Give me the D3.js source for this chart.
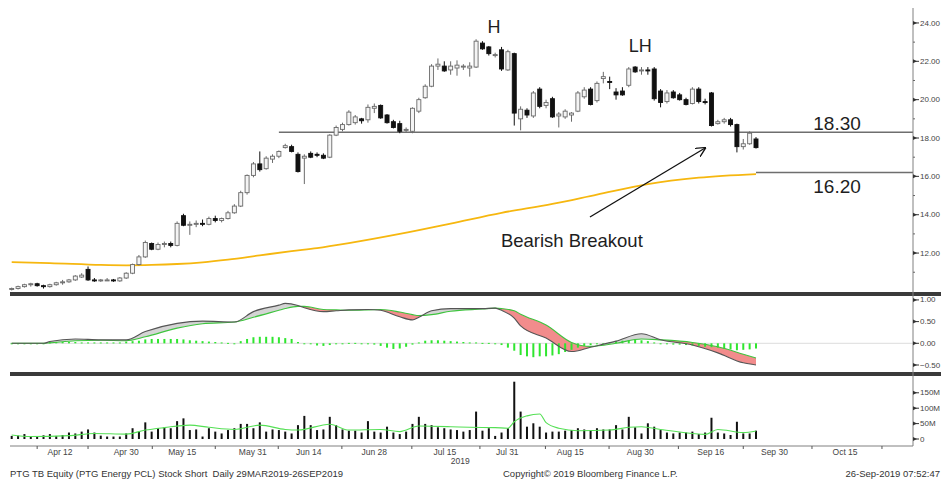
<!DOCTYPE html>
<html>
<head>
<meta charset="utf-8">
<script src="https://cdn.jsdelivr.net/npm/d3@7"></script>
<style>
  body { margin: 0; background: #fff; }
  svg { display: block; font-family: "Liberation Sans", Arial, sans-serif; }
</style>
</head>
<body>
<svg id="chart" width="941" height="483"></svg>
<script>
// Daily candles, 29 Mar 2019 - 26 Sep 2019: [open, high, low, close]
var CANDLES = [
  [10.10,10.20,10.05,10.15],[10.15,10.30,10.10,10.25],[10.25,10.40,10.20,10.35],[10.35,10.45,10.25,10.40],
  [10.40,10.45,10.25,10.30],[10.30,10.35,10.15,10.25],[10.25,10.40,10.20,10.35],[10.35,10.50,10.30,10.45],
  [10.45,10.60,10.35,10.50],[10.50,10.65,10.45,10.60],[10.60,10.85,10.55,10.80],[10.75,10.95,10.70,10.85],
  [11.15,11.30,10.55,10.60],[10.60,10.70,10.50,10.55],[10.55,10.65,10.50,10.60],[10.60,10.70,10.55,10.60],
  [10.60,10.65,10.50,10.55],[10.55,10.75,10.50,10.70],[10.70,11.00,10.65,10.95],[10.95,11.45,10.90,11.40],
  [11.40,11.90,11.35,11.80],[11.80,12.65,11.75,12.55],[12.50,12.55,12.15,12.20],[12.20,12.55,12.15,12.45],
  [12.45,12.60,12.30,12.50],[12.50,12.60,12.30,12.40],[12.40,13.65,12.35,13.55],[13.95,14.05,13.40,13.45],
  [13.45,13.65,12.95,13.50],[13.50,13.70,13.35,13.55],[13.55,13.75,13.40,13.50],[13.50,13.90,13.45,13.80],
  [13.80,13.95,13.60,13.70],[13.70,13.85,13.60,13.80],[13.80,14.20,13.75,14.10],[14.10,14.55,14.05,14.45],
  [14.45,15.25,14.40,15.15],[15.15,16.10,15.05,16.05],[16.05,16.75,15.95,16.65],[16.65,17.30,16.25,16.35],
  [16.40,17.05,16.35,16.95],[16.90,17.15,16.70,17.05],[17.05,17.35,16.95,17.30],[17.50,17.70,17.45,17.60],
  [17.55,17.65,17.25,17.30],[17.15,17.25,16.20,16.25],[16.95,17.15,15.60,17.05],[17.20,17.30,16.95,17.00],
  [17.15,17.25,17.00,17.10],[17.10,17.20,16.90,16.95],[17.00,18.20,16.95,18.15],[18.15,18.65,18.10,18.55],
  [18.45,18.80,18.35,18.70],[18.70,19.45,18.65,19.35],[18.80,19.20,18.70,19.10],[19.00,19.05,18.75,18.90],
  [18.95,19.75,18.80,19.60],[19.55,19.80,19.30,19.65],[19.70,19.75,19.00,19.05],[19.20,19.25,18.75,18.80],
  [18.85,18.95,18.50,18.55],[18.75,18.90,18.25,18.35],[18.40,18.55,18.30,18.45],[18.35,19.60,18.25,19.55],
  [19.40,20.10,19.30,20.00],[20.10,20.80,20.05,20.70],[20.70,21.85,20.65,21.75],[21.75,22.15,21.55,21.85],
  [21.75,22.00,21.45,21.50],[21.55,22.00,21.30,21.75],[21.65,22.05,21.25,21.80],[21.70,21.85,21.55,21.75],
  [21.65,21.95,21.20,21.75],[21.70,23.15,21.65,23.05],[22.95,23.05,22.60,22.65],[22.75,22.80,22.30,22.40],
  [22.30,22.45,22.20,22.35],[22.60,22.75,21.50,21.60],[21.55,22.60,21.50,22.50],[22.40,22.45,18.65,19.30],
  [19.00,19.65,18.40,19.50],[19.45,19.55,19.05,19.20],[19.15,20.45,19.05,20.35],[20.55,20.65,19.55,19.65],
  [19.70,20.00,19.55,19.85],[20.05,20.15,19.05,19.10],[19.15,19.35,18.55,19.25],[19.10,19.50,19.00,19.40],
  [19.20,19.35,18.85,19.30],[19.40,20.45,19.35,20.35],[20.15,20.65,20.05,20.50],[20.55,20.65,19.70,19.75],
  [19.95,20.95,19.85,20.85],[21.10,21.45,20.85,21.20],[20.95,21.20,20.55,20.90],[20.40,20.60,20.00,20.25],
  [20.45,20.65,20.20,20.25],[20.75,21.70,20.65,21.60],[21.70,21.75,21.40,21.45],[21.50,21.70,21.30,21.55],
  [21.55,21.70,21.30,21.50],[21.60,21.70,19.95,20.05],[20.45,20.55,19.60,19.85],[19.90,20.50,19.80,20.35],
  [20.40,20.50,20.05,20.10],[20.25,20.35,19.95,20.00],[20.00,20.10,19.70,19.75],[19.80,20.65,19.75,20.55],
  [20.55,20.65,19.80,19.90],[19.90,20.05,19.75,19.85],[20.35,20.40,18.60,18.65],[18.75,18.95,18.70,18.85],
  [18.85,19.05,18.75,18.95],[18.95,19.05,18.60,18.70],[18.70,18.75,17.25,17.55],[17.55,17.95,17.40,17.70],
  [17.70,18.35,17.65,18.25],[17.95,18.05,17.45,17.50]
];

// Daily volume, millions of shares
var VOLUME = [
  10,11,16,8,8,12,16,10,13,21,18,24,31,21,11,8,8,8,18,35,24,54,24,35,38,35,58,67,29,31,
  8,35,24,18,29,35,49,49,35,54,24,31,29,24,18,45,75,45,29,31,72,45,31,27,27,21,58,24,21,40,
  21,16,24,49,72,49,45,38,35,31,29,24,29,89,27,35,10,21,35,186,89,40,51,40,21,24,24,27,29,35,
  31,29,35,31,31,45,31,72,38,18,51,40,29,21,18,21,21,24,16,21,69,21,18,13,56,18,18,27
];

// Volume moving average: [day index, millions]
var VOLUME_MA = [
  [0,13],[3,8],[9,11],[13,18],[18,16],[21,29],[24,37],[28,45],[31,38],[35,31],[39,45],[43,31],
  [45,29],[50,48],[53,29],[58,31],[61,24],[64,42],[69,40],[72,38],[76,37],[78,35],[79,56],[81,75],
  [83,81],[84,53],[86,35],[89,27],[94,29],[97,38],[99,40],[102,31],[107,18],[109,15],[111,31],
  [115,21],[117,26]
];

// 200-day moving average: [day index, price]
var MA200 = [
  [0,11.53],[6,11.48],[14,11.38],[18,11.36],[22,11.38],[26,11.43],[30,11.52],[34,11.66],[39,11.88],
  [44,12.10],[48,12.26],[53,12.52],[61,13.00],[69,13.54],[77,14.10],[85,14.56],[92,15.05],[100,15.60],
  [108,15.93],[117,16.12]
];

// MACD: [day index, macd, signal]
var MACD = [
  [0,0,0],[5,0,0],[6,0.04,0.01],[10,0.10,0.06],[14,0.08,0.07],[18,0.08,0.06],[21,0.27,0.15],
  [26,0.46,0.35],[30,0.51,0.45],[35,0.49,0.49],[38,0.73,0.60],[42,0.88,0.76],[43,0.92,0.80],
  [45,0.87,0.85],[46,0.82,0.85],[49,0.73,0.78],[51,0.75,0.77],[53,0.77,0.76],[56,0.78,0.77],
  [58,0.76,0.78],[61,0.61,0.72],[63,0.54,0.66],[64,0.60,0.64],[66,0.75,0.66],[69,0.80,0.74],
  [74,0.80,0.79],[76,0.81,0.81],[77,0.76,0.80],[79,0.58,0.75],[80,0.40,0.67],[84,0.12,0.42],
  [88,-0.19,0.02],[91,-0.09,-0.07],[95,0.05,0.00],[99,0.22,0.10],[102,0.08,0.08],[107,-0.04,0.02],
  [111,-0.22,-0.08],[115,-0.45,-0.25],[117,-0.50,-0.34]
];

// MACD histogram, one value per day
var MACD_HIST = [
  0,0,0,0,0,0, 0.03,0.03,0.03,0.03,0.03, 0.02,0.02,0.02,0.02,0.02,0.02,0.02, 0.04,0.05,0.06,
  0.09,0.10,0.10,0.10,0.10,0.10,0.09, 0.07,0.06,0.05,0.04,0.03,0.02,0.01,0.00,
  0.05,0.10,0.14,0.15,0.15,0.15,0.14,0.12,0.10, 0.03,0.00,-0.02, -0.05,-0.06,-0.04,
  -0.01,0,0.01,0.01,0,-0.01, -0.03,-0.06,-0.10,-0.13,-0.12,-0.08,-0.03,0.02,
  0.06,0.07,0.07,0.06,0.05,0.04, 0.03,0.02,0.02,0.01,0.01,0, -0.04,-0.10,-0.17,
  -0.27,-0.30,-0.32,-0.30,-0.30,-0.28,-0.25, -0.20,-0.15,-0.10,-0.06, -0.04,-0.02,0,
  0.03,0.05,0.06,0.07,0.08,0.07,0.05, 0.02,-0.01,-0.02,-0.03,-0.03,-0.04,
  -0.05,-0.06,-0.08,-0.09,-0.10, -0.12,-0.14,-0.16,-0.15,-0.14,-0.12
];

var PRICE_TICKS = [12, 14, 16, 18, 20, 22, 24];
var PRICE_MINOR = [11, 13, 15, 17, 19, 21, 23];
var MACD_TICKS = [1.0, 0.5, 0.0, -0.5];
var VOLUME_TICKS = [0, 50, 100, 150];

// date labels: [label, day index of label centre]
var X_LABELS = [
  ["Apr 12",7.6],["Apr 30",18],["May 15",26.8],["May 31",37.9],["Jun 14",46.7],["Jun 28",57],
  ["Jul 15",68.1],["Jul 31",77.9],["Aug 15",87.8],["Aug 30",98.8],["Sep 16",109.9],["Sep 30",119.9],
  ["Oct 15",131]
];
var X_TICKS = [4, 12, 22.1, 32, 41.9, 51.9, 62.9, 73.6, 83.9, 93.9, 104.8, 115, 125.8, 136.8];

// horizontal levels: value and starting day index
var LEVELS = [[18.30, 42], [16.20, 117]];

var svg = d3.select('#chart');

// scales
var x = d3.scaleLinear().domain([0, 117]).range([11.7, 756]);
var yPrice = d3.scaleLinear().domain([9.97, 24.78]).range([292, 8]);
var yMacd = d3.scaleLinear().domain([-0.615, 1.067]).range([370, 297]);
var yVol = d3.scaleLinear().domain([-22.7, 204.5]).range([446, 376]);

var AXIS_X = 913;
var LEFT = 10;

// price panel ------------------------------------------------------------

// 200 day MA
svg.append('path')
  .datum(MA200)
  .attr('fill', 'none')
  .attr('stroke', '#f6b70f')
  .attr('stroke-width', 1.8)
  .attr('d', d3.line()
    .x(function(d) { return x(d[0]); })
    .y(function(d) { return yPrice(d[1]); })
    .curve(d3.curveMonotoneX));

// support / resistance lines
svg.selectAll('.level')
  .data(LEVELS)
  .enter().append('line')
    .attr('x1', function(d) { return x(d[1]); })
    .attr('x2', AXIS_X)
    .attr('y1', function(d) { return yPrice(d[0]); })
    .attr('y2', function(d) { return yPrice(d[0]); })
    .attr('stroke', '#6e6e6e')
    .attr('stroke-width', 1.4);

// candles
var candle = svg.append('g').selectAll('g')
  .data(CANDLES)
  .enter().append('g');

candle.append('line')
  .attr('x1', function(d, i) { return x(i); })
  .attr('x2', function(d, i) { return x(i); })
  .attr('y1', function(d) { return yPrice(d[1]); })
  .attr('y2', function(d) { return yPrice(d[2]); })
  .attr('stroke', function(d) { return d[3] >= d[0] ? '#6a6a6a' : '#111'; })
  .attr('stroke-width', 1);

candle.append('rect')
  .attr('x', function(d, i) { return x(i) - 2; })
  .attr('width', 4)
  .attr('y', function(d) { return yPrice(Math.max(d[0], d[3])); })
  .attr('height', function(d) { return Math.max(1, Math.abs(yPrice(d[0]) - yPrice(d[3]))); })
  .attr('fill', function(d) { return d[3] >= d[0] ? '#f4f4f4' : '#111'; })
  .attr('stroke', function(d) { return d[3] >= d[0] ? '#6a6a6a' : '#111'; })
  .attr('stroke-width', 0.9);

// annotations
svg.append('defs').append('marker')
    .attr('id', 'arrow')
    .attr('viewBox', '0 0 10 10')
    .attr('refX', 9).attr('refY', 5)
    .attr('markerWidth', 10).attr('markerHeight', 10)
    .attr('markerUnits', 'userSpaceOnUse')
    .attr('orient', 'auto')
  .append('path')
    .attr('d', 'M0,0 L10,5 L0,10')
    .attr('fill', 'none')
    .attr('stroke', '#111')
    .attr('stroke-width', 1.3);

svg.append('line')
  .attr('x1', x(90.9)).attr('y1', yPrice(13.88))
  .attr('x2', x(109.0)).attr('y2', yPrice(17.48))
  .attr('stroke', '#111')
  .attr('stroke-width', 1.3)
  .attr('marker-end', 'url(#arrow)');

var notes = [
  ['H', 75.8, 23.48, 'middle', 18],
  ['LH', 98.8, 22.49, 'middle', 18],
  ['18.30', 126, 18.42, 'start', 19],
  ['16.20', 126, 15.13, 'start', 19],
  ['Bearish Breakout', 76.9, 12.31, 'start', 18.5]
];
svg.selectAll('.note')
  .data(notes)
  .enter().append('text')
    .attr('x', function(d) { return x(d[1]); })
    .attr('y', function(d) { return yPrice(d[2]); })
    .attr('text-anchor', function(d) { return d[3]; })
    .attr('font-size', function(d) { return d[4] + 'px'; })
    .attr('fill', '#1e1e1e')
    .text(function(d) { return d[0]; });

// MACD panel -------------------------------------------------------------

svg.append('line')
  .attr('x1', LEFT).attr('x2', AXIS_X)
  .attr('y1', yMacd(0)).attr('y2', yMacd(0))
  .attr('stroke', '#dcdcdc');

var macdArea = d3.area()
  .x(function(d) { return x(d[0]); })
  .curve(d3.curveMonotoneX);

var defs = svg.select('defs');
defs.append('clipPath').attr('id', 'below-macd')
  .append('path').datum(MACD)
  .attr('d', macdArea.y0(370).y1(function(d) { return yMacd(d[1]); }));
defs.append('clipPath').attr('id', 'above-macd')
  .append('path').datum(MACD)
  .attr('d', macdArea.y0(297).y1(function(d) { return yMacd(d[1]); }));

// macd above signal -> grey
svg.append('path').datum(MACD)
  .attr('clip-path', 'url(#below-macd)')
  .attr('fill', '#d4d4d4')
  .attr('d', macdArea.y0(297).y1(function(d) { return yMacd(d[2]); }));
// macd below signal -> red
svg.append('path').datum(MACD)
  .attr('clip-path', 'url(#above-macd)')
  .attr('fill', '#f28c8c')
  .attr('d', macdArea.y0(370).y1(function(d) { return yMacd(d[2]); }));

svg.append('g').selectAll('rect')
  .data(MACD_HIST)
  .enter().append('rect')
    .attr('x', function(d, i) { return x(i) - 1; })
    .attr('width', 2)
    .attr('y', function(d) { return yMacd(Math.max(0, d)); })
    .attr('height', function(d) { return Math.max(1, Math.abs(yMacd(d) - yMacd(0))); })
    .attr('fill', '#2fe62f');

svg.append('path').datum(MACD)
  .attr('fill', 'none')
  .attr('stroke', '#3ec43e')
  .attr('stroke-width', 1.1)
  .attr('d', d3.line()
    .x(function(d) { return x(d[0]); })
    .y(function(d) { return yMacd(d[2]); })
    .curve(d3.curveMonotoneX));

svg.append('path').datum(MACD)
  .attr('fill', 'none')
  .attr('stroke', '#555')
  .attr('stroke-width', 1.1)
  .attr('d', d3.line()
    .x(function(d) { return x(d[0]); })
    .y(function(d) { return yMacd(d[1]); })
    .curve(d3.curveMonotoneX));

// volume panel -----------------------------------------------------------

svg.append('g').selectAll('rect')
  .data(VOLUME)
  .enter().append('rect')
    .attr('x', function(d, i) { return x(i) - 1; })
    .attr('width', 2)
    .attr('y', function(d) { return yVol(d); })
    .attr('height', function(d) { return yVol(0) - yVol(d); })
    .attr('fill', '#111');

svg.append('path').datum(VOLUME_MA)
  .attr('fill', 'none')
  .attr('stroke', '#55e055')
  .attr('stroke-width', 1.1)
  .attr('d', d3.line()
    .x(function(d) { return x(d[0]); })
    .y(function(d) { return yVol(d[1]); })
    .curve(d3.curveMonotoneX));

// frame, separators, axes ------------------------------------------------

svg.append('rect').attr('x', LEFT).attr('y', 292).attr('width', 941 - LEFT).attr('height', 4).attr('fill', '#3a3a3a');
svg.append('rect').attr('x', LEFT).attr('y', 372).attr('width', 941 - LEFT).attr('height', 4).attr('fill', '#3a3a3a');

svg.append('line')
  .attr('x1', AXIS_X).attr('x2', AXIS_X)
  .attr('y1', 8).attr('y2', 446)
  .attr('stroke', '#808080');

svg.append('line')
  .attr('x1', LEFT).attr('x2', AXIS_X)
  .attr('y1', 446).attr('y2', 446)
  .attr('stroke', '#808080');

function rightTicks(values, scale, fmt) {
  var g = svg.append('g');
  var t = g.selectAll('g').data(values).enter().append('g')
    .attr('transform', function(d) { return 'translate(' + AXIS_X + ',' + scale(d) + ')'; });
  t.append('path').attr('d', 'M0,-2L4,0L0,2Z').attr('fill', '#333');
  t.append('line').attr('x1', 0).attr('x2', 6).attr('stroke', '#333');
  t.append('text')
    .attr('x', 7).attr('dy', '0.32em')
    .attr('font-size', '8px')
    .attr('fill', '#444')
    .text(fmt);
}
rightTicks(PRICE_TICKS, yPrice, function(d) { return d3.format('.2f')(d); });
rightTicks(MACD_TICKS, yMacd, function(d) { return d3.format('.2f')(d); });
rightTicks(VOLUME_TICKS, yVol, function(d) { return d === 0 ? '0' : d + 'M'; });

svg.append('g').selectAll('line')
  .data(PRICE_MINOR)
  .enter().append('line')
    .attr('x1', AXIS_X).attr('x2', AXIS_X + 2)
    .attr('y1', function(d) { return yPrice(d); })
    .attr('y2', function(d) { return yPrice(d); })
    .attr('stroke', '#666');

svg.append('g').selectAll('line')
  .data(X_TICKS)
  .enter().append('line')
    .attr('x1', function(d) { return x(d); })
    .attr('x2', function(d) { return x(d); })
    .attr('y1', 446).attr('y2', 449)
    .attr('stroke', '#555');

svg.append('g').selectAll('text')
  .data(X_LABELS)
  .enter().append('text')
    .attr('x', function(d) { return x(d[1]); })
    .attr('y', 455)
    .attr('text-anchor', 'middle')
    .attr('font-size', '8.5px')
    .attr('fill', '#444')
    .text(function(d) { return d[0]; });

svg.append('text')
  .attr('x', x(70.5)).attr('y', 464)
  .attr('text-anchor', 'middle')
  .attr('font-size', '8.5px')
  .attr('fill', '#444')
  .text('2019');

// footer
var footer = [
  ['PTG TB Equity (PTG Energy PCL) Stock Short\u00a0\u00a0Daily 29MAR2019-26SEP2019', 10, 'start'],
  ['Copyright\u00a9 2019 Bloomberg Finance L.P.', 503, 'start'],
  ['26-Sep-2019 07:52:47', 940, 'end']
];
svg.selectAll('.footer')
  .data(footer)
  .enter().append('text')
    .attr('x', function(d) { return d[1]; })
    .attr('y', 477)
    .attr('text-anchor', function(d) { return d[2]; })
    .attr('font-size', '9.5px')
    .attr('fill', '#333')
    .text(function(d) { return d[0]; });
</script>
</body>
</html>
